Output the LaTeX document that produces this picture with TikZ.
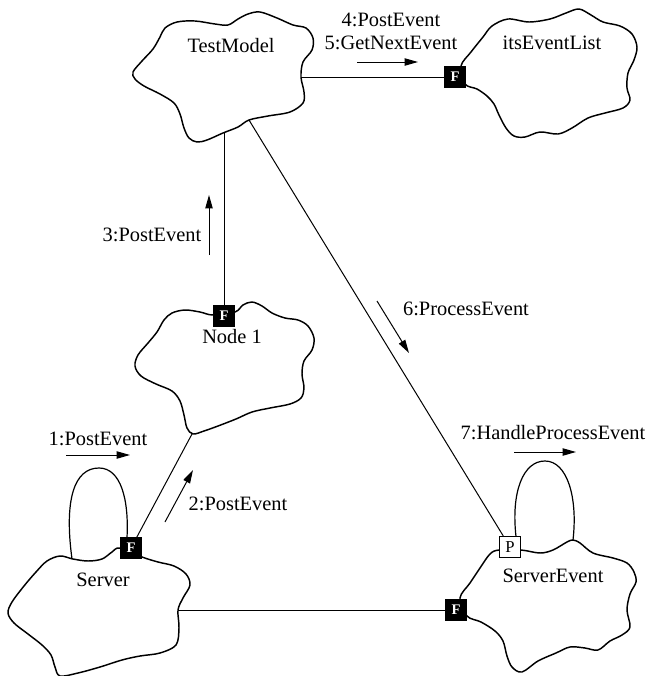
\documentclass[tikz,border=0pt]{standalone}
\usepackage{fontspec}
\setmainfont{Liberation Serif}
\usetikzlibrary{arrows.meta}
\begin{document}
\begin{tikzpicture}[x=0.75pt,y=-0.75pt,
  cloudline/.style={line width=1.1pt, line join=round},
  lbl/.style={font=\fontsize{15.3pt}{18pt}\selectfont, inner sep=0pt},
  fport/.style={fill=black, draw=black, minimum size=15.75pt, inner sep=0pt,
                text=white, font=\fontsize{11pt}{11pt}\selectfont\bfseries},
  pport/.style={fill=white, draw=black, line width=0.8pt, minimum size=15.75pt,
                inner sep=0pt, font=\fontsize{12.5pt}{12.5pt}\selectfont},
  link/.style={line width=0.75pt},
  msg/.style={line width=0.75pt, -{Triangle[length=10pt,width=5.5pt]}}
]
\useasboundingbox (0,0) rectangle (647,676);

% ---- object clouds ----
% TestModel
\draw[cloudline] plot[smooth cycle, tension=0.55] coordinates {
  (133,72) (142,61) (153,49) (160,37) (165,28) (177,22) (195,21) (215,24)
  (228,25) (238,19) (248,14) (260,12) (277,18) (293,25) (306,28) (313,38)
  (312,50) (303,62) (301,77) (304,92) (303,103) (290,112) (268,116) (249,120)
  (238,127) (223,133) (207,140) (197,142) (189,138) (184,128) (180,114)
  (174,103) (160,94) (144,86) (135,79)};
% itsEventList
\draw[cloudline] plot[smooth cycle, tension=0.55] coordinates {
  (461,66) (471,52) (483,37) (492,26) (508,19) (529,22) (550,19) (566,13)
  (579,9) (591,15) (603,22) (620,26) (632,34) (637,47) (634,60) (628,73)
  (627,88) (630,100) (623,108) (605,113) (588,118) (572,128) (558,134)
  (540,132) (525,137) (514,136) (506,128) (499,115) (494,104) (487,96)
  (477,89) (465,84)};
% Node 1
\draw[cloudline] plot[smooth cycle, tension=0.55] coordinates {
  (235,312) (243,305) (252,302) (262,306) (272,313) (285,318) (298,320)
  (308,326) (314,338) (312,350) (304,361) (302,374) (304,388) (301,398)
  (290,404) (270,408) (252,412) (236,419) (218,426) (204,431) (193,434)
  (187,428) (184,415) (180,401) (172,391) (156,384) (141,376) (135,366)
  (138,355) (148,343) (157,332) (164,320) (172,313) (185,310) (200,312)
  (213,315)};
% Server
\draw[cloudline] plot[smooth cycle, tension=0.55] coordinates {
  (142,557) (158,562) (174,566) (186,574) (190,585) (183,598) (178,610)
  (179,628) (176,645) (160,653) (140,656) (122,660) (100,667) (78,673)
  (60,676) (55,667) (51,655) (42,645) (28,634) (14,623) (8,613) (12,602)
  (24,586) (36,572) (47,561) (60,556) (73,559) (88,561) (102,559) (112,552)
  (120,548)};
% ServerEvent
\draw[cloudline] plot[smooth cycle, tension=0.55] coordinates {
  (521,550) (540,553) (553,550) (567,542) (573,540) (580,543) (593,553)
  (613,558) (627,563) (634,572) (636,582) (630,594) (627,610) (630,627)
  (622,635) (610,641) (598,650) (585,648) (570,647) (556,653) (538,661)
  (522,672) (512,667) (507,656) (503,641) (495,631) (481,622) (467,616)
  (460,598) (470,583) (480,568) (490,554) (499,550)};

% ---- object names ----
\node[lbl] (tmName)  at (231,46)  {TestModel};
\node[lbl] (elName)  at (552,43)  {itsEventList};
\node[lbl] (n1Name)  at (232,337) {Node 1};
\node[lbl] (srvName) at (103,580) {Server};
\node[lbl] (seName)  at (553,576) {ServerEvent};

% ---- ports ----
\node[fport] (itsF) at (455,77)  {F};
\node[fport] (n1F)  at (224,316) {F};
\node[fport] (srvF) at (131,548) {F};
\node[fport] (seF)  at (456,610) {F};
\node[pport] (seP)  at (510,547) {P};

% ---- attachment points on cloud outlines ----
\coordinate (tmE) at (301,77);
\coordinate (tmB) at (224,133);
\coordinate (tmD) at (249,120);
\coordinate (n1B) at (192,434);
\coordinate (srvE) at (178,610);
\coordinate (srvLoopA) at (72,559);
\coordinate (srvLoopB) at (127,537.5);
\coordinate (seLoopA) at (516,536.5);
\coordinate (seLoopB) at (573,540);

% ---- links ----
\draw[link] (tmE) -- (itsF);
\draw[link] (tmB) -- (n1F);
\draw[link] (tmD) -- (seP);
\draw[link] (srvF) -- (n1B);
\draw[link] (srvE) -- (seF);
\draw[cloudline, line width=0.9pt] (srvLoopA) .. controls (64,500) and (74,468) .. (99,468)
      .. controls (121,468) and (129,500) .. (srvLoopB);
\draw[cloudline, line width=0.9pt] (seLoopA) .. controls (511,492) and (523,461) .. (545,461)
      .. controls (567,461) and (578,497) .. (seLoopB);

% ---- messages ----
\coordinate (m45a) at (357,62);  \coordinate (m45b) at (418,62);
\coordinate (m3a)  at (209,255); \coordinate (m3b)  at (209,195);
\coordinate (m6a)  at (377,301); \coordinate (m6b)  at (409,353);
\coordinate (m1a)  at (66,455);  \coordinate (m1b)  at (130,455);
\coordinate (m2a)  at (165,522); \coordinate (m2b)  at (193,470);
\coordinate (m7a)  at (514,452); \coordinate (m7b)  at (576,452);
\draw[msg] (m45a) -- (m45b);
\draw[msg] (m3a) -- (m3b);
\draw[msg] (m6a) -- (m6b);
\draw[msg] (m1a) -- (m1b);
\draw[msg] (m2a) -- (m2b);
\draw[msg] (m7a) -- (m7b);

\node[lbl] (l4) at (391,20)  {4:PostEvent};
\node[lbl] (l5) at (391,43)  {5:GetNextEvent};
\node[lbl] (l3) at (152,235) {3:PostEvent};
\node[lbl] (l6) at (466,309) {6:ProcessEvent};
\node[lbl] (l1) at (98,439)  {1:PostEvent};
\node[lbl] (l2) at (238,504) {2:PostEvent};
\node[lbl] (l7) at (553,433) {7:HandleProcessEvent};
\end{tikzpicture}
\end{document}
